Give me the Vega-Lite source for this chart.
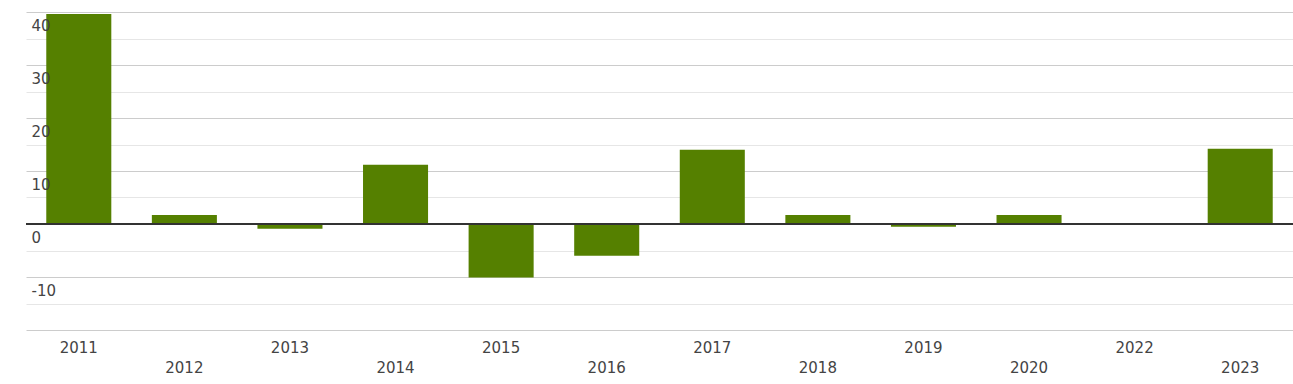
{
  "$schema": "https://vega.github.io/schema/vega-lite/v6.json",
  "width": 1267,
  "height": 318,
  "autosize": {"type": "none"},
  "padding": {"left": 26, "top": 12, "right": 0, "bottom": 54},
  "background": "white",
  "config": {"view": {"stroke": null}, "font": "DejaVu Sans"},
  "data": {
    "values": [
      {"year": "2011", "value": 39.6},
      {"year": "2012", "value": 1.7},
      {"year": "2013", "value": -0.9},
      {"year": "2014", "value": 11.2},
      {"year": "2015", "value": -10.1},
      {"year": "2016", "value": -6.0},
      {"year": "2017", "value": 14.0},
      {"year": "2018", "value": 1.7},
      {"year": "2019", "value": -0.5},
      {"year": "2020", "value": 1.7},
      {"year": "2022", "value": 0},
      {"year": "2023", "value": 14.2}
    ]
  },
  "resolve": {"axis": {"y": "independent"}},
  "layer": [
    {
      "mark": {"type": "bar", "color": "#558000"},
      "encoding": {
        "x": {
          "field": "year",
          "type": "ordinal",
          "sort": null,
          "scale": {"paddingInner": 0.384, "paddingOuter": 0.192},
          "axis": {
            "title": null,
            "domain": false,
            "ticks": false,
            "grid": false,
            "labelAngle": 0,
            "labelFontSize": 15,
            "labelColor": "#444444",
            "labelPadding": 10,
            "labelBaseline": "top",
            "labelLineHeight": 20,
            "labelExpr": "indexof(['2012','2014','2016','2018','2020','2023'], datum.value) >= 0 ? ['', datum.label] : datum.label"
          }
        },
        "y": {
          "field": "value",
          "type": "quantitative",
          "scale": {"domain": [-20, 40], "nice": false},
          "axis": {
            "title": null,
            "orient": "left",
            "values": [-20, -15, -10, -5, 0, 5, 10, 15, 20, 25, 30, 35, 40],
            "domain": false,
            "ticks": false,
            "labels": false,
            "grid": true,
            "gridColor": {"condition": {"test": "datum.value % 10 === 0", "value": "#cccccc"}, "value": "#e6e6e6"},
            "zindex": 0
          }
        }
      }
    },
    {
      "mark": {"type": "rule", "color": "#333333", "strokeWidth": 1},
      "encoding": {
        "y": {
          "datum": 0,
          "type": "quantitative",
          "axis": {
            "title": null,
            "orient": "left",
            "values": [-10, 0, 10, 20, 30, 40],
            "domain": false,
            "ticks": false,
            "grid": false,
            "labelExpr": "toString(datum.value)",
            "labelAlign": "left",
            "labelBaseline": "top",
            "labelPadding": -5,
            "labelOffset": 6,
            "labelFlush": false,
            "labelOverlap": false,
            "labelFontSize": 15,
            "labelColor": "#444444",
            "zindex": 1
          }
        }
      }
    }
  ]
}
